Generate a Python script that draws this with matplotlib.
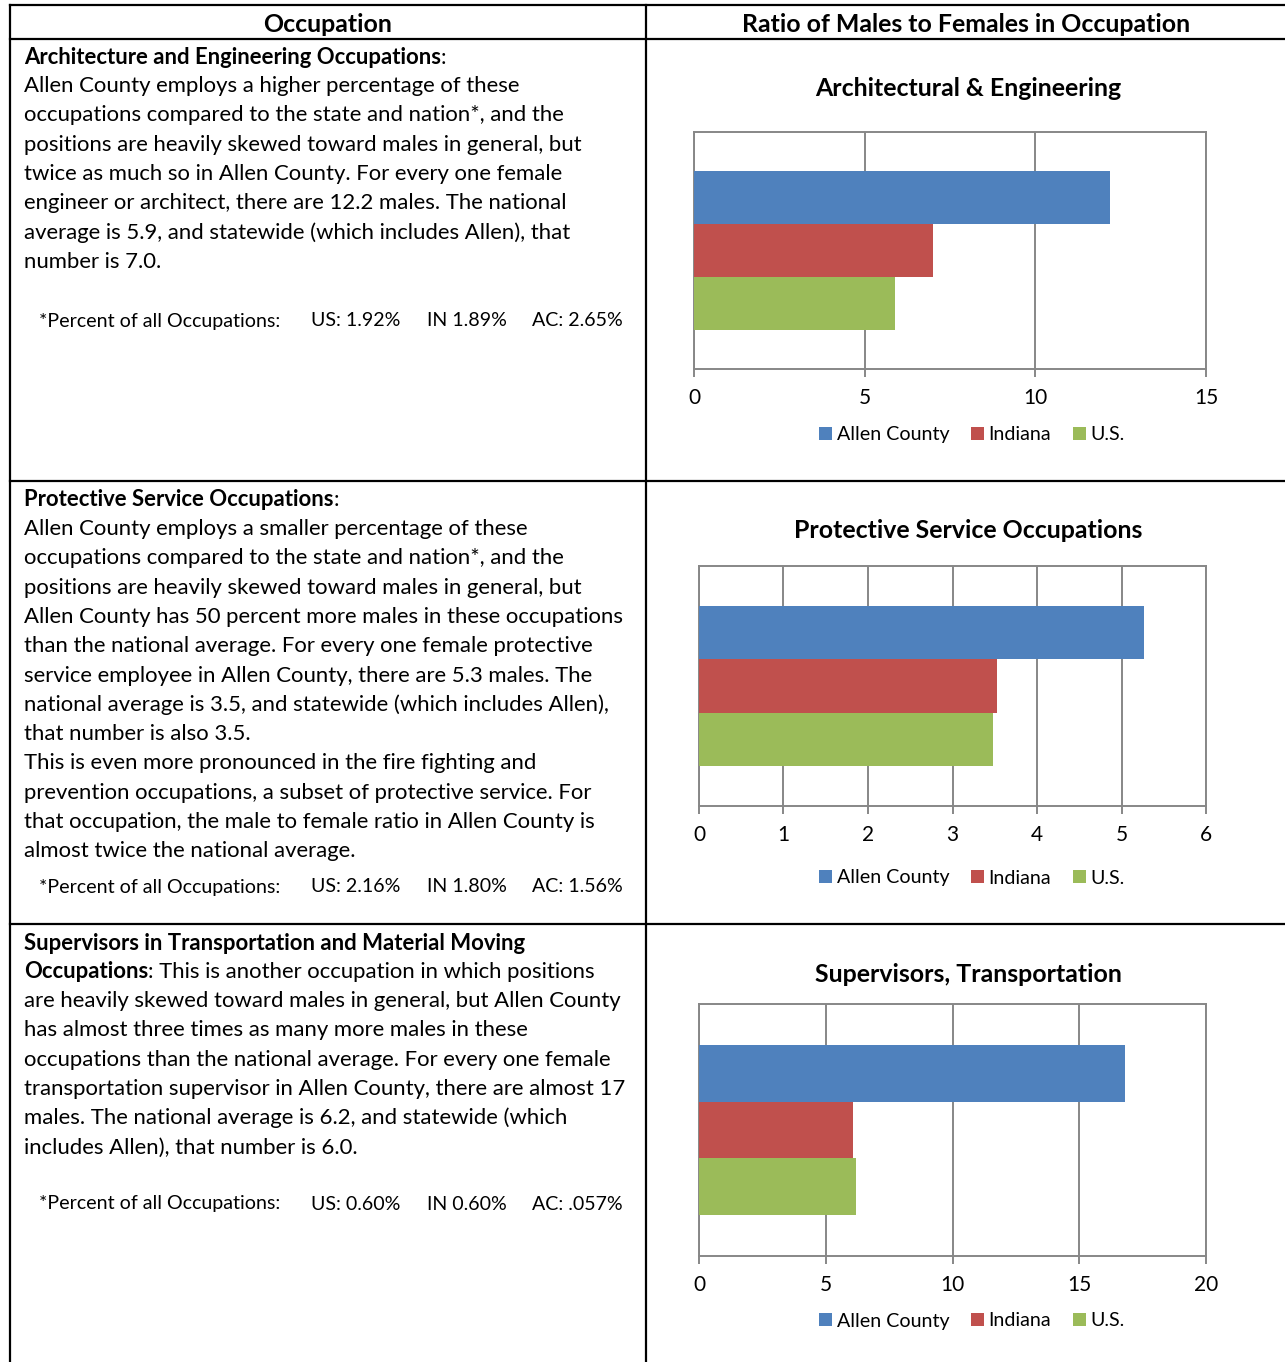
import matplotlib
matplotlib.use("Agg")
from matplotlib import pyplot as plt
from matplotlib.patches import Patch

plt.rcParams['font.family'] = ['Lato', 'DejaVu Sans']

W, H = 1285, 1362

# chart data (male to female ratios)
regions = ["Allen County", "Indiana", "U.S."]
colors = ["#4f81bd", "#c0504d", "#9bbb59"]
chartTitles = ["Architectural & Engineering", "Protective Service Occupations", "Supervisors, Transportation"]
archEng = [12.2, 7.0, 5.9]
protective = [5.27, 3.53, 3.48]
supervisors = [16.8, 6.07, 6.2]
xMax = [15, 6, 20]
xStep = [5, 1, 5]

# left column text
row1Bold = "Architecture and Engineering Occupations"
row1Lines = [
    "Allen County employs a higher percentage of these",
    "occupations compared to the state and nation*, and the",
    "positions are heavily skewed toward males in general, but",
    "twice as much so in Allen County. For every one female",
    "engineer or architect, there are 12.2 males. The national",
    "average is 5.9, and statewide (which includes Allen), that",
    "number is 7.0.",
]
row2Bold = "Protective Service Occupations"
row2Lines = [
    "Allen County employs a smaller percentage of these",
    "occupations compared to the state and nation*, and the",
    "positions are heavily skewed toward males in general, but",
    "Allen County has 50 percent more males in these occupations",
    "than the national average. For every one female protective",
    "service employee in Allen County, there are 5.3 males. The",
    "national average is 3.5, and statewide (which includes Allen),",
    "that number is also 3.5.",
    "This is even more pronounced in the fire fighting and",
    "prevention occupations, a subset of protective service. For",
    "that occupation, the male to female ratio in Allen County is",
    "almost twice the national average.",
]
row3Bold1 = "Supervisors in Transportation and Material Moving"
row3Bold2 = "Occupations"
row3Rest = ": This is another occupation in which positions"
row3Lines = [
    "are heavily skewed toward males in general, but Allen County",
    "has almost three times as many more males in these",
    "occupations than the national average. For every one female",
    "transportation supervisor in Allen County, there are almost 17",
    "males. The national average is 6.2, and statewide (which",
    "includes Allen), that number is 6.0.",
]
percents = [
    ["US: 1.92%", "IN 1.89%", "AC: 2.65%"],
    ["US: 2.16%", "IN 1.80%", "AC: 1.56%"],
    ["US: 0.60%", "IN 0.60%", "AC: .057%"],
]

bodySize = 15.9
smallSize = 14.1
headSize = 17.9
lineGap = 29.3

fig = plt.figure(figsize=(W / 100, H / 100), dpi=100)
bg = fig.add_axes([0, 0, 1, 1])
bg.set_xlim(0, W)
bg.set_ylim(H, 0)
bg.axis("off")

# table borders
for y in [5, 39, 481, 924]:
    bg.plot([10, W], [y, y], color="black", lw=1.6)
for x in [10, 646]:
    bg.plot([x, x], [5, H], color="black", lw=1.6)

bg.text(328, 24, "Occupation", ha="center", va="center", fontsize=headSize, fontweight="bold")
bg.text(966, 24, "Ratio of Males to Females in Occupation", ha="center", va="center",
        fontsize=headSize, fontweight="bold")


def boldThenPlain(x, y, boldText, plainText):
    t = bg.text(x, y, boldText, ha="left", va="center", fontsize=bodySize, fontweight="bold")
    bg.annotate(plainText, xy=(1, 0), xycoords=t, ha="left", va="bottom", fontsize=bodySize)


def bodyLines(y0, lines):
    for i, line in enumerate(lines):
        bg.text(24, y0 + i * lineGap, line, ha="left", va="center", fontsize=bodySize)


def percentLine(y, vals):
    bg.text(39, y, "*Percent of all Occupations:", ha="left", va="center", fontsize=smallSize)
    for xp, v in zip([311, 427, 532], vals):
        bg.text(xp, y, v, ha="left", va="center", fontsize=smallSize)


boldThenPlain(24, 57, row1Bold, ":")
bodyLines(86, row1Lines)
percentLine(321, percents[0])

boldThenPlain(24, 500, row2Bold, ":")
bodyLines(529, row2Lines)
percentLine(887, percents[1])

bg.text(24, 943, row3Bold1, ha="left", va="center", fontsize=bodySize, fontweight="bold")
boldThenPlain(24, 972, row3Bold2, row3Rest)
bodyLines(1001, row3Lines)
percentLine(1204, percents[2])

# charts: pixel boxes (left, top, right, bottom)
boxes = [(694, 132, 1206, 369), (699, 566, 1206, 806), (699, 1004, 1206, 1256)]
titleY = [88, 531, 974]
legendY = [435, 878, 1321]
datasets = [archEng, protective, supervisors]
gridColor = "#878787"
barH = 0.2236

for i in range(3):
    l, t, r, b = boxes[i]
    ax = fig.add_axes([l / W, 1 - b / H, (r - l) / W, (b - t) / H])
    ax.barh([barH, 0, -barH], datasets[i], height=barH, color=colors, zorder=3)
    ax.set_xlim(0, xMax[i])
    ax.set_ylim(-0.5, 0.5)
    ax.set_xticks(range(0, xMax[i] + 1, xStep[i]))
    ax.set_yticks([])
    ax.grid(axis="x", color=gridColor, lw=1.4, zorder=0)
    for s in ax.spines.values():
        s.set_color(gridColor)
        s.set_linewidth(1.4)
    ax.tick_params(axis="x", direction="out", length=6, width=1.4, color=gridColor,
                   labelsize=15, pad=8)
    bg.text(968, titleY[i], chartTitles[i], ha="center", va="center",
            fontsize=headSize, fontweight="bold")
    handles = [Patch(facecolor=c, label=n) for c, n in zip(colors, regions)]
    fig.legend(handles=handles, loc="center", bbox_to_anchor=(972 / W, 1 - legendY[i] / H),
               ncol=3, frameon=False, fontsize=smallSize, handlelength=0.65,
               handleheight=0.65, handletextpad=0.25, columnspacing=1.1)

fig.savefig("out.png", dpi=100)
